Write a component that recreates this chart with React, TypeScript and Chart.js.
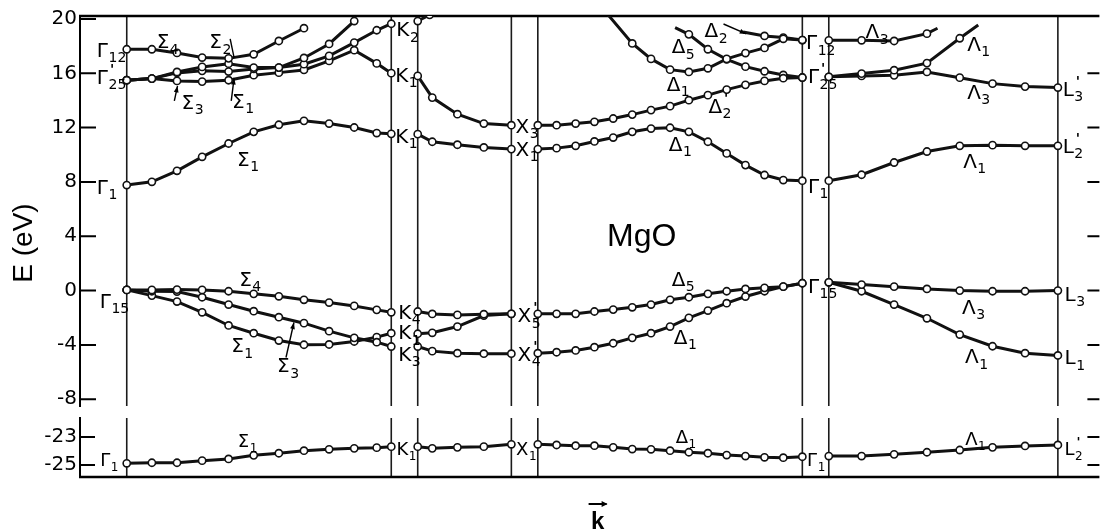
import React, { useEffect, useRef } from "react";
import { Chart, registerables } from "chart.js";
Chart.register(...registerables);

// ---- k-path (symmetry points: Γ | K K' | X X' | Γ Γ' | L) ----
const symK = [0, 1.0, 1.1, 1.454, 1.554, 2.554, 2.654, 3.52];
const sigmaK = [0, 0.095, 0.19, 0.285, 0.385, 0.48, 0.575, 0.67, 0.765, 0.86, 0.945, 1.0];
const kxK = [1.1, 1.155, 1.25, 1.35, 1.454];
const deltaK = [1.554, 1.625, 1.697, 1.768, 1.839, 1.911, 1.982, 2.054, 2.125, 2.197, 2.268, 2.339, 2.411, 2.482, 2.554];
const lambdaK = [2.654, 2.778, 2.901, 3.025, 3.149, 3.273, 3.396, 3.52];

// ---- tick labels ----
const upperTicks = [20, 16, 12, 8, 4, 0, -4, -8];
const lowerTicks = [-23, -25];

// ---- Σ (Γ → K) ----
const sigma1CondE = [7.77, 8.01, 8.82, 9.85, 10.83, 11.69, 12.21, 12.5, 12.3, 12.01, 11.6, 11.54];
const sigma4CondE = [17.77, 17.77, 17.5, 17.16, 17.1, 17.4, 18.38, 19.32];
const sigmaUpperAE = [15.49, 15.61, 16.1, 16.47, 16.71, 16.42, 16.42, 17.13, 18.16, 19.85];
const sigmaUpperBE = [15.49, 15.61, 16.03, 16.18, 16.13, 16.32, 16.42, 16.67, 17.28, 18.26, 19.17, 19.65];
const sigmaUpperCE = [15.49, 15.61, 15.44, 15.39, 15.49, 15.86, 16.05, 16.25, 16.91, 17.7, 16.73, 16.01];
const sigma4ValE = [0.05, 0.05, 0.07, 0.05, -0.05, -0.24, -0.42, -0.68, -0.88, -1.13, -1.42, -1.6];
const sigma3ValE = [0.05, -0.05, -0.07, -0.49, -1.03, -1.52, -1.96, -2.4, -2.99, -3.48, -3.8, -4.12];
const sigma1ValE = [0.05, -0.37, -0.81, -1.6, -2.57, -3.14, -3.68, -3.99, -3.97, -3.75, -3.43, -3.14];
const sigma1CoreE = [-24.88, -24.84, -24.84, -24.69, -24.57, -24.31, -24.16, -23.98, -23.88, -23.81, -23.76, -23.69];

// ---- K → X ----
const kx2K = [1.1, 1.145];
const kx2E = [19.85, 20.3];
const kxUpperE = [15.81, 14.21, 12.99, 12.3, 12.18];
const kxCondE = [11.52, 10.96, 10.74, 10.54, 10.42];
const kx4ValE = [-1.54, -1.72, -1.79, -1.74, -1.71];
const kx1ValE = [-3.18, -3.11, -2.65, -1.84, -1.71];
const kx3ValE = [-4.12, -4.46, -4.61, -4.65, -4.65];
const kxCoreE = [-23.69, -23.81, -23.74, -23.69, -23.52];

// ---- Δ (X → Γ) ----
const delta2pE = [12.18, 12.18, 12.3, 12.43, 12.67, 12.96, 13.29, 13.58, 14.02, 14.39, 14.8, 15.15, 15.44, 15.64, 15.69];
const delta1CondE = [10.42, 10.49, 10.66, 10.98, 11.27, 11.69, 11.93, 11.99, 11.69, 10.96, 10.1, 9.24, 8.51, 8.14, 8.09];
const delta1UpperK = [1.768, 1.911, 1.982, 2.054, 2.125, 2.197, 2.268, 2.339, 2.411, 2.482, 2.554];
const delta1UpperE = [21.5, 18.2, 17.06, 16.27, 16.1, 16.37, 17.06, 17.49, 17.87, 18.54, 18.45];
const delta5UpperK = [2.073, 2.125, 2.197, 2.268, 2.339, 2.411, 2.482, 2.554];
const delta5UpperE = [19.36, 18.87, 17.77, 17.03, 16.49, 16.15, 15.88, 15.69];
const delta2UpperK = [2.33, 2.411, 2.482, 2.554];
const delta2UpperE = [19.04, 18.75, 18.63, 18.45];
const delta5ValE = [-1.71, -1.71, -1.71, -1.54, -1.4, -1.23, -1.03, -0.68, -0.49, -0.24, -0.05, 0.12, 0.2, 0.29, 0.54];
const delta1ValE = [-4.61, -4.54, -4.41, -4.17, -3.88, -3.48, -3.14, -2.65, -2.01, -1.47, -0.93, -0.44, -0.05, 0.29, 0.54];
const delta1CoreE = [-23.52, -23.57, -23.62, -23.62, -23.74, -23.86, -23.88, -23.98, -24.09, -24.16, -24.29, -24.36, -24.45, -24.48, -24.41];

// ---- Λ (Γ → L) ----
const lambda3UpperK = [2.654, 2.778, 2.901, 3.025, 3.065];
const lambda3UpperE = [18.43, 18.43, 18.38, 18.92, 19.32];
const lambda1UpperK = [2.654, 2.778, 2.901, 3.025, 3.149, 3.219];
const lambda1UpperE = [15.74, 15.98, 16.23, 16.75, 18.58, 19.56];
const lambda3E = [15.74, 15.81, 15.85, 16.1, 15.68, 15.24, 15.02, 14.95];
const lambda1CondE = [8.09, 8.53, 9.43, 10.24, 10.66, 10.71, 10.66, 10.66];
const lambda3ValE = [0.61, 0.44, 0.29, 0.12, 0, -0.05, -0.05, 0];
const lambda1ValE = [0.61, -0.05, -1.03, -2.04, -3.24, -4.1, -4.61, -4.78];
const lambda1CoreE = [-24.36, -24.36, -24.24, -24.09, -23.93, -23.74, -23.64, -23.57];

type Band = { k: number[]; e: number[]; ax: "yTop" | "yBot"; bare?: number[] };

const bands: Band[] = [
  { k: sigmaK, e: sigma1CondE, ax: "yTop" },
  { k: sigmaK, e: sigma4CondE, ax: "yTop" },
  { k: sigmaK, e: sigmaUpperAE, ax: "yTop" },
  { k: sigmaK, e: sigmaUpperBE, ax: "yTop" },
  { k: sigmaK, e: sigmaUpperCE, ax: "yTop" },
  { k: sigmaK, e: sigma4ValE, ax: "yTop" },
  { k: sigmaK, e: sigma3ValE, ax: "yTop" },
  { k: sigmaK, e: sigma1ValE, ax: "yTop" },
  { k: sigmaK, e: sigma1CoreE, ax: "yBot" },
  { k: kx2K, e: kx2E, ax: "yTop" },
  { k: kxK, e: kxUpperE, ax: "yTop" },
  { k: kxK, e: kxCondE, ax: "yTop" },
  { k: kxK, e: kx4ValE, ax: "yTop" },
  { k: kxK, e: kx1ValE, ax: "yTop" },
  { k: kxK, e: kx3ValE, ax: "yTop" },
  { k: kxK, e: kxCoreE, ax: "yBot" },
  { k: deltaK, e: delta2pE, ax: "yTop" },
  { k: deltaK, e: delta1CondE, ax: "yTop" },
  { k: delta1UpperK, e: delta1UpperE, ax: "yTop", bare: [0] },
  { k: delta5UpperK, e: delta5UpperE, ax: "yTop", bare: [0] },
  { k: delta2UpperK, e: delta2UpperE, ax: "yTop", bare: [0] },
  { k: deltaK, e: delta5ValE, ax: "yTop" },
  { k: deltaK, e: delta1ValE, ax: "yTop" },
  { k: deltaK, e: delta1CoreE, ax: "yBot" },
  { k: lambda3UpperK, e: lambda3UpperE, ax: "yTop", bare: [4] },
  { k: lambda1UpperK, e: lambda1UpperE, ax: "yTop", bare: [5] },
  { k: lambdaK, e: lambda3E, ax: "yTop" },
  { k: lambdaK, e: lambda1CondE, ax: "yTop" },
  { k: lambdaK, e: lambda3ValE, ax: "yTop" },
  { k: lambdaK, e: lambda1ValE, ax: "yTop" },
  { k: lambdaK, e: lambda1CoreE, ax: "yBot" },
];

// ---- band labels (main letter, subscript, prime) in (k, E) ----
type Lab = { t: string; s?: string; p?: boolean; k: number; e: number; ax: "yTop" | "yBot" };
const T = "yTop" as const;
const B = "yBot" as const;
const labels: Lab[] = [
  { t: "Γ", s: "12", k: -0.113, e: 17.21, ax: T },
  { t: "Γ", s: "25", p: true, k: -0.113, e: 15.22, ax: T },
  { t: "Γ", s: "1", k: -0.113, e: 7.13, ax: T },
  { t: "Σ", s: "4", k: 0.113, e: 17.87, ax: T },
  { t: "Σ", s: "2", k: 0.312, e: 17.87, ax: T },
  { t: "Σ", s: "3", k: 0.207, e: 13.38, ax: T },
  { t: "Σ", s: "1", k: 0.398, e: 13.46, ax: T },
  { t: "Σ", s: "1", k: 0.417, e: 9.19, ax: T },
  { t: "K", s: "2", k: 1.019, e: 18.75, ax: T },
  { t: "K", s: "1", k: 1.015, e: 15.37, ax: T },
  { t: "K", s: "1", k: 1.015, e: 10.88, ax: T },
  { t: "X", s: "3", k: 1.47, e: 11.62, ax: T },
  { t: "X", s: "1", k: 1.47, e: 9.93, ax: T },
  { t: "Δ", s: "5", k: 2.06, e: 17.5, ax: T },
  { t: "Δ", s: "2", k: 2.184, e: 18.68, ax: T },
  { t: "Δ", s: "1", k: 2.041, e: 14.71, ax: T },
  { t: "Δ", s: "2", p: true, k: 2.199, e: 13.09, ax: T },
  { t: "Δ", s: "1", k: 2.049, e: 10.29, ax: T },
  { t: "Γ", s: "12", k: 2.568, e: 17.79, ax: T },
  { t: "Γ", s: "25", p: true, k: 2.575, e: 15.29, ax: T },
  { t: "Γ", s: "1", k: 2.575, e: 7.2, ax: T },
  { t: "Λ", s: "3", k: 2.793, e: 18.6, ax: T },
  { t: "Λ", s: "1", k: 3.177, e: 17.65, ax: T },
  { t: "Λ", s: "3", k: 3.177, e: 14.12, ax: T },
  { t: "L", s: "3", p: true, k: 3.538, e: 14.34, ax: T },
  { t: "L", s: "2", p: true, k: 3.538, e: 10.15, ax: T },
  { t: "Λ", s: "1", k: 3.162, e: 9.04, ax: T },
  { t: "Γ", s: "15", k: -0.102, e: -1.25, ax: T },
  { t: "Σ", s: "4", k: 0.425, e: 0.37, ax: T },
  { t: "Σ", s: "1", k: 0.395, e: -4.56, ax: T },
  { t: "Σ", s: "3", k: 0.568, e: -6.03, ax: T },
  { t: "K", s: "4", k: 1.026, e: -2.06, ax: T },
  { t: "K", s: "1", k: 1.026, e: -3.6, ax: T },
  { t: "K", s: "3", k: 1.026, e: -5.15, ax: T },
  { t: "X", s: "5", p: true, k: 1.477, e: -2.35, ax: T },
  { t: "X", s: "4", p: true, k: 1.477, e: -5.15, ax: T },
  { t: "Δ", s: "5", k: 2.06, e: 0.37, ax: T },
  { t: "Δ", s: "1", k: 2.068, e: -3.9, ax: T },
  { t: "Γ", s: "15", k: 2.575, e: -0.15, ax: T },
  { t: "Λ", s: "3", k: 3.158, e: -1.69, ax: T },
  { t: "Λ", s: "1", k: 3.169, e: -5.37, ax: T },
  { t: "L", s: "3", k: 3.545, e: -0.74, ax: T },
  { t: "L", s: "1", k: 3.545, e: -5.44, ax: T },
  { t: "Γ", s: "1", k: -0.1, e: -25.07, ax: B },
  { t: "Σ", s: "1", k: 0.42, e: -23.71, ax: B },
  { t: "K", s: "1", k: 1.02, e: -24.29, ax: B },
  { t: "X", s: "1", k: 1.472, e: -24.29, ax: B },
  { t: "Δ", s: "1", k: 2.075, e: -23.43, ax: B },
  { t: "Γ", s: "1", k: 2.572, e: -25.07, ax: B },
  { t: "Λ", s: "1", k: 3.17, e: -23.57, ax: B },
  { t: "L", s: "2", p: true, k: 3.545, e: -24.29, ax: B },
];

// pointer lines from labels to bands: [k0, e0, k1, e1, axis, arrowhead]
const pointers: [number, number, number, number, "yTop" | "yBot", boolean][] = [
  [0.18, 13.97, 0.192, 15.07, T, true],
  [0.395, 13.97, 0.406, 15.66, T, true],
  [0.391, 18.53, 0.406, 17.13, T, false],
  [2.256, 19.63, 2.342, 18.9, T, true],
  [0.602, -4.93, 0.632, -2.35, T, true],
];

const FONT = '"Liberation Sans", Arial, Helvetica, sans-serif';
const LFONT = '"DejaVu Sans", "Liberation Sans", sans-serif';

function drawLabel(ctx: CanvasRenderingContext2D, x: number, y: number, l: Lab, size: number) {
  ctx.font = `${size}px ${LFONT}`;
  ctx.textAlign = "left";
  ctx.textBaseline = "alphabetic";
  ctx.fillText(l.t, x, y);
  const w = ctx.measureText(l.t).width;
  if (l.s) {
    ctx.font = `${Math.round(size * 0.68)}px ${LFONT}`;
    ctx.fillText(l.s, x + w + 0.5, y + size * 0.28);
  }
  if (l.p) {
    ctx.font = `bold ${Math.round(size * 0.7)}px ${LFONT}`;
    ctx.fillText("'", x + w + 2, y - size * 0.5);
  }
}

const decor = {
  id: "decor",
  beforeDatasetsDraw(chart: any) {
    const { ctx, chartArea, scales } = chart;
    const x = scales.x, yT = scales.yTop, yB = scales.yBot;
    ctx.save();
    ctx.strokeStyle = "#1b1b1b";
    ctx.lineWidth = 1.6;
    ctx.beginPath();
    for (const k of symK) {
      const px = x.getPixelForValue(k);
      ctx.moveTo(px, yT.top);
      ctx.lineTo(px, yT.bottom);
      ctx.moveTo(px, yB.top);
      ctx.lineTo(px, yB.bottom);
    }
    ctx.stroke();
    ctx.strokeStyle = "#000";
    ctx.lineWidth = 2.5;
    ctx.beginPath();
    ctx.moveTo(chartArea.left - 1, chartArea.top);
    ctx.lineTo(chartArea.right, chartArea.top);
    ctx.moveTo(chartArea.left - 1, chartArea.bottom);
    ctx.lineTo(chartArea.right, chartArea.bottom);
    ctx.stroke();
    ctx.lineWidth = 2;
    ctx.beginPath();
    for (const v of upperTicks) {
      const py = yT.getPixelForValue(v);
      ctx.moveTo(chartArea.left, py);
      ctx.lineTo(chartArea.left + 16, py);
      if (v < 20) {
        ctx.moveTo(chartArea.right - 12, py);
        ctx.lineTo(chartArea.right, py);
      }
    }
    for (const v of lowerTicks) {
      const py = yB.getPixelForValue(v);
      ctx.moveTo(chartArea.left, py);
      ctx.lineTo(chartArea.left + 15, py);
      ctx.moveTo(chartArea.right - 12, py);
      ctx.lineTo(chartArea.right, py);
    }
    ctx.stroke();
    ctx.restore();
  },
  afterDatasetsDraw(chart: any) {
    const { ctx, chartArea, scales } = chart;
    const x = scales.x;
    ctx.save();
    ctx.fillStyle = "#000";
    for (const l of labels) {
      const px = x.getPixelForValue(l.k);
      const py = scales[l.ax].getPixelForValue(l.e);
      drawLabel(ctx, px, py, l, l.ax === "yBot" ? 18 : 20);
    }
    // pointers
    ctx.strokeStyle = "#000";
    ctx.lineWidth = 1.4;
    for (const [k0, e0, k1, e1, ax, head] of pointers) {
      const x0 = x.getPixelForValue(k0), y0 = scales[ax].getPixelForValue(e0);
      const x1 = x.getPixelForValue(k1), y1 = scales[ax].getPixelForValue(e1);
      ctx.beginPath();
      ctx.moveTo(x0, y0);
      ctx.lineTo(x1, y1);
      ctx.stroke();
      if (head) {
        const a = Math.atan2(y1 - y0, x1 - x0);
        ctx.beginPath();
        ctx.moveTo(x1, y1);
        ctx.lineTo(x1 - 7 * Math.cos(a - 0.35), y1 - 7 * Math.sin(a - 0.35));
        ctx.lineTo(x1 - 7 * Math.cos(a + 0.35), y1 - 7 * Math.sin(a + 0.35));
        ctx.closePath();
        ctx.fill();
      }
    }
    // compound name
    ctx.font = `32px ${FONT}`;
    ctx.textAlign = "left";
    ctx.fillText("MgO", x.getPixelForValue(1.816), scales.yTop.getPixelForValue(3.31));
    // axis titles
    ctx.save();
    ctx.translate(chartArea.left - 56, scales.yTop.getPixelForValue(3.5));
    ctx.rotate(-Math.PI / 2);
    ctx.font = `28px ${FONT}`;
    ctx.textAlign = "center";
    ctx.textBaseline = "middle";
    ctx.fillText("E (eV)", 0, 0);
    ctx.restore();
    const kx = x.getPixelForValue(1.78);
    ctx.font = `bold 24px ${FONT}`;
    ctx.textAlign = "center";
    ctx.textBaseline = "alphabetic";
    ctx.fillText("k", kx, chartArea.bottom + 52);
    ctx.lineWidth = 2;
    ctx.beginPath();
    ctx.moveTo(kx - 9, chartArea.bottom + 27);
    ctx.lineTo(kx + 9, chartArea.bottom + 27);
    ctx.stroke();
    ctx.beginPath();
    ctx.moveTo(kx + 10, chartArea.bottom + 27);
    ctx.lineTo(kx + 4, chartArea.bottom + 24);
    ctx.lineTo(kx + 4, chartArea.bottom + 30);
    ctx.closePath();
    ctx.fill();
    ctx.restore();
  },
};

const fixWidth = (s: any) => {
  s.width = 80;
};

export default function App() {
  const ref = useRef<HTMLCanvasElement | null>(null);
  useEffect(() => {
    if (!ref.current) return;
    const datasets = bands.map((b) => ({
      data: b.k.map((k, i) => ({ x: k, y: b.e[i] })),
      yAxisID: b.ax,
      showLine: true,
      borderColor: "#111",
      borderWidth: 3,
      pointRadius: b.bare ? b.k.map((_, i) => (b.bare!.includes(i) ? 0 : 3.6)) : 3.6,
      pointBackgroundColor: "#fff",
      pointBorderColor: "#111",
      pointBorderWidth: 1.6,
      tension: 0,
      clip: 0,
    }));
    const tickFont = { size: 20, family: LFONT };
    const chart = new Chart(ref.current, {
      type: "scatter",
      data: { datasets },
      plugins: [decor],
      options: {
        animation: false,
        responsive: false,
        events: [],
        layout: { padding: { top: 16, bottom: 54, left: 0, right: 0 } },
        plugins: { legend: { display: false }, tooltip: { enabled: false } },
        scales: {
          x: { type: "linear", min: -0.1767, max: 3.677, display: false },
          yBot: {
            type: "linear",
            position: "left",
            stack: "v",
            stackWeight: 59,
            weight: 1,
            min: -25.86,
            max: -21.64,
            afterBuildTicks: (s: any) => {
              s.ticks = lowerTicks.map((v) => ({ value: v }));
            },
            afterFit: fixWidth,
            ticks: { color: "#000", font: tickFont, padding: 3, callback: (v: any) => String(v) },
            grid: { display: false, drawTicks: false },
            border: { display: true, color: "#000", width: 2 },
          },
          ySpace: {
            type: "linear",
            position: "left",
            stack: "v",
            stackWeight: 12,
            weight: 2,
            min: 0,
            max: 1,
            afterBuildTicks: (s: any) => {
              s.ticks = [];
            },
            afterFit: fixWidth,
            ticks: { display: false },
            grid: { display: false, drawTicks: false },
            border: { display: false },
          },
          yTop: {
            type: "linear",
            position: "left",
            stack: "v",
            stackWeight: 390,
            weight: 3,
            min: -8.5,
            max: 20.22,
            afterBuildTicks: (s: any) => {
              s.ticks = upperTicks.map((v) => ({ value: v }));
            },
            afterFit: fixWidth,
            ticks: { color: "#000", font: tickFont, padding: 3, callback: (v: any) => String(v) },
            grid: { display: false, drawTicks: false },
            border: { display: true, color: "#000", width: 2 },
          },
        },
      } as any,
    });
    return () => chart.destroy();
  }, []);
  return (
    <div style={{ position: "absolute", left: 0, top: 0, width: 1105, height: 531, background: "#fff" }}>
      <canvas ref={ref} width={1105} height={531} style={{ display: "block" }} />
    </div>
  );
}
